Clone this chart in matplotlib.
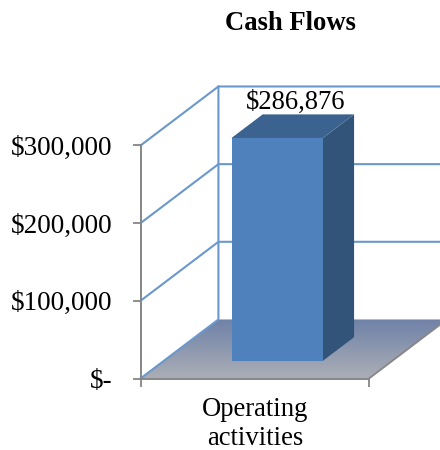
import matplotlib
matplotlib.use("Agg")
import matplotlib.pyplot as plt
import numpy as np
from matplotlib.patches import Polygon

categories = ["Operating\nactivities"]
values = [286876]
value_labels = ["$286,876"]
y_ticks = [0, 100000, 200000, 300000]
y_labels = ["$-", "$100,000", "$200,000", "$300,000"]
title = "Cash Flows"

plt.rcParams['font.family'] = ['Liberation Serif', 'DejaVu Serif']

# depth direction of the fake 3d view, in data units
dx = 0.341
dv = 76000


def proj(x, v, d):
    return (x + d * dx, v + d * dv)


W, H = 440, 450
fig = plt.figure(figsize=(W / 100, H / 100), dpi=100)
# axes box is the front face of the chart
ax = fig.add_axes([140.5 / W, 1 - 378.5 / H, 228.5 / W, 233 / H])
ax.set_xlim(0, len(categories))
ax.set_ylim(0, 300000)
ax.patch.set_visible(False)

gray = "#868686"
blue = "#6B98CC"

# floor with gradient
floor = Polygon([proj(0, 0, 0), proj(1, 0, 0), proj(1, 0, 1), proj(0, 0, 1)],
                closed=True, transform=ax.transData, fc="none", ec="none", clip_on=False)
ax.add_patch(floor)
grad = np.linspace(0, 1, 64).reshape(-1, 1)
c1 = np.array([0x6F, 0x82, 0xA8]) / 255
c2 = np.array([0xAC, 0xAE, 0xB6]) / 255
rgb = c1[None, None, :] * (1 - grad[:, :, None]) + c2[None, None, :] * grad[:, :, None]
im = ax.imshow(rgb, extent=[0, 1 + dx, 0, dv], origin="upper", aspect="auto", zorder=1)
im.set_clip_box(fig.bbox)
im.set_clip_path(floor)
ax.set_xlim(0, len(categories))
ax.set_ylim(0, 300000)

# floor right edge
xs, ys = zip(proj(1, 0, 0), proj(1, 0, 1))
ax.plot(xs, ys, color=gray, lw=1.3, clip_on=False, zorder=2)

# walls and gridlines
for t in y_ticks:
    if t > 0:
        xs, ys = zip(proj(0, t, 0), proj(0, t, 1), proj(1, t, 1))
        ax.plot(xs, ys, color=blue, lw=1.5, clip_on=False, zorder=2)
xs, ys = zip(proj(0, 0, 0), proj(0, 0, 1), proj(0, y_ticks[-1], 1))
ax.plot(xs, ys, color=blue, lw=1.5, clip_on=False, zorder=2)

# bars
bar_w = 0.4
d0, d1 = 0.3, 0.7
for i, v in enumerate(values):
    x0 = i + 0.5 - bar_w / 2 - 0.004
    x1 = x0 + bar_w
    side = [proj(x1, 0, d0), proj(x1, 0, d1), proj(x1, v, d1), proj(x1, v, d0)]
    top = [proj(x0, v, d0), proj(x1, v, d0), proj(x1, v, d1), proj(x0, v, d1)]
    front = [proj(x0, 0, d0), proj(x1, 0, d0), proj(x1, v, d0), proj(x0, v, d0)]
    ax.add_patch(Polygon(side, fc="#325479", ec="none", clip_on=False, zorder=3))
    ax.add_patch(Polygon(top, fc="#3C6390", ec="none", clip_on=False, zorder=3))
    ax.add_patch(Polygon(front, fc="#4F81BD", ec="none", clip_on=False, zorder=4))
    lx, ly = proj(i + 0.5, v, d1)
    ax.annotate(value_labels[i], (lx, ly), xytext=(-9.7, -0.7), textcoords="offset points",
                ha="center", va="bottom", fontsize=19.2, color="black", zorder=5,
                annotation_clip=False)

# axes
for s in ["top", "right"]:
    ax.spines[s].set_visible(False)
for s in ["left", "bottom"]:
    ax.spines[s].set_color(gray)
    ax.spines[s].set_linewidth(1.4)
    ax.spines[s].set_zorder(6)

ax.set_yticks(y_ticks)
ax.set_yticklabels(y_labels, fontsize=19.5)
ax.tick_params(axis="y", color=gray, length=5.5, width=1.3, pad=15)

ax.set_xticks([0, 1])
ax.set_xticklabels(["", ""])
ax.set_xticks([0.5], categories, minor=True, fontsize=19.2)
ax.tick_params(axis="x", which="major", color=gray, length=5.5, width=1.3)
ax.tick_params(axis="x", which="minor", length=0, pad=13.5)

fig.text(290 / W, 1 - 24 / H, title, ha="center", va="center", fontsize=19.2, fontweight="bold")

fig.savefig("out.png", dpi=100)
